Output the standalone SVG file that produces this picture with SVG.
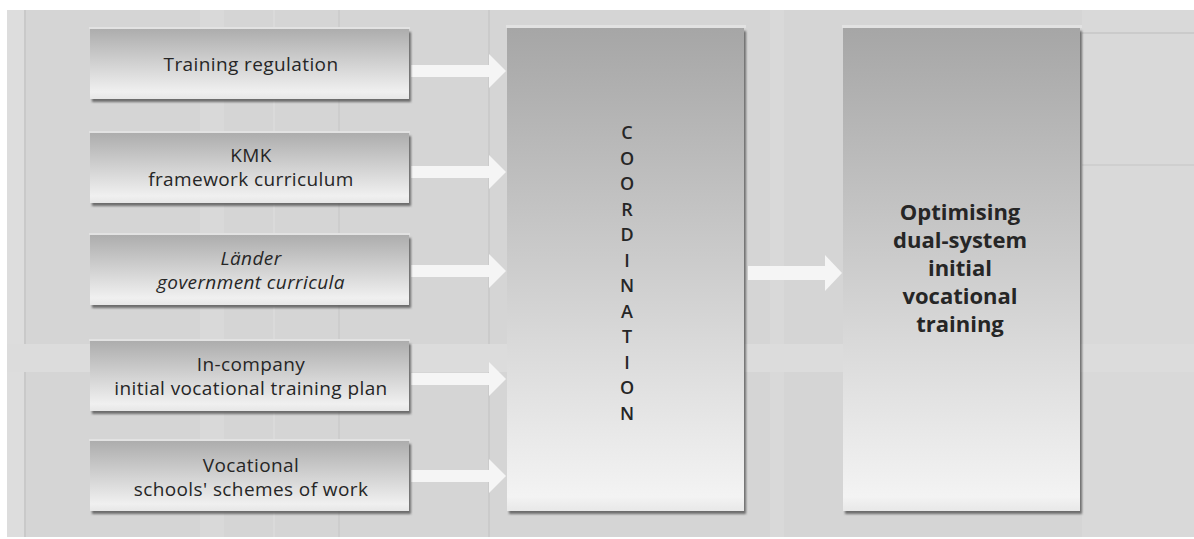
<svg xmlns="http://www.w3.org/2000/svg" width="1194" height="539" viewBox="0 0 1194 539">
  <defs>
    <linearGradient id="gSmall" x1="0" y1="0" x2="0" y2="1">
      <stop offset="0" stop-color="#adadad"/>
      <stop offset="0.5" stop-color="#d2d2d2"/>
      <stop offset="0.9" stop-color="#f0f0f0"/>
      <stop offset="1" stop-color="#e6e6e6"/>
    </linearGradient>
    <linearGradient id="gBig" x1="0" y1="0" x2="0" y2="1">
      <stop offset="0" stop-color="#a6a6a6"/>
      <stop offset="0.5" stop-color="#cdcdcd"/>
      <stop offset="0.97" stop-color="#f3f3f3"/>
      <stop offset="1" stop-color="#e8e8e8"/>
    </linearGradient>
    <filter id="sh" x="-5%" y="-10%" width="115%" height="130%">
      <feDropShadow dx="2" dy="3" stdDeviation="1.2" flood-color="#4a4a4a" flood-opacity="0.75"/>
    </filter>
    <style>
      .box { fill: url(#gSmall); filter: url(#sh); }
      .big { fill: url(#gBig); filter: url(#sh); }
      .hl { fill: #e2e2e2; }
      .lbl { font-family: "Open Sans", "Liberation Sans", sans-serif; font-size: 19px; letter-spacing: 0.4px; fill: #262626; text-anchor: middle; }
      .it { font-style: italic; }
      .coord { font-family: "Open Sans", "Liberation Sans", sans-serif; font-size: 18px; font-weight: 600; fill: #262626; text-anchor: middle; }
      .res { font-family: "Open Sans", "Liberation Sans", sans-serif; font-size: 22px; font-weight: 700; fill: #262626; text-anchor: middle; }
      .arrow { fill: #f5f5f5; }
    </style>
  </defs>

  <!-- background panel -->
  <rect x="0" y="0" width="1194" height="539" fill="#ffffff"/>
  <rect x="7" y="10" width="1187" height="527" fill="#d5d5d5"/>
  <rect x="7" y="10" width="17" height="527" fill="#dddddd"/>
  <rect x="24" y="10" width="2" height="527" fill="#c9c9c9"/>
  <rect x="200" y="10" width="24" height="527" fill="#d9d9d9"/>
  <rect x="273" y="10" width="2" height="527" fill="#dadada"/>
  <rect x="338" y="10" width="2" height="527" fill="#cdcdcd"/>
  <rect x="488" y="10" width="2" height="527" fill="#cbcbcb"/>
  <rect x="770" y="10" width="14" height="527" fill="#d9d9d9"/>
  <rect x="1082" y="10" width="112" height="527" fill="#d9d9d9"/>
  <rect x="7" y="344" width="1187" height="28" fill="#dcdcdc"/>
  <rect x="1082" y="32" width="112" height="2" fill="#cbcbcb"/>
  <rect x="1082" y="164" width="112" height="2" fill="#cfcfcf"/>

  <!-- connectors -->
  <g id="connectors">
    <path class="arrow" d="M411,65 H489 V54 L506,71 L489,88 V77 H411 Z"/>
    <path class="arrow" d="M411,166 H489 V155 L506,172 L489,189 V178 H411 Z"/>
    <path class="arrow" d="M411,265 H489 V254 L506,271 L489,288 V277 H411 Z"/>
    <path class="arrow" d="M411,373 H489 V362 L506,379 L489,396 V385 H411 Z"/>
    <path class="arrow" d="M411,470 H489 V459 L506,476 L489,493 V482 H411 Z"/>
    <path class="arrow" d="M748,266 H825 V255 L842,273 L825,291 V280 H748 Z"/>
  </g>

  <!-- input nodes -->
  <g id="node-training-regulation">
    <rect class="hl" x="89" y="27" width="321" height="2"/>
    <rect class="box" x="90" y="29" width="319" height="70"/>
    <text class="lbl" x="251" y="71">Training regulation</text>
  </g>
  <g id="node-kmk">
    <rect class="hl" x="89" y="131" width="321" height="2"/>
    <rect class="box" x="90" y="133" width="319" height="70"/>
    <text class="lbl" x="251" y="162">KMK</text>
    <text class="lbl" x="251" y="186">framework curriculum</text>
  </g>
  <g id="node-laender">
    <rect class="hl" x="89" y="233" width="321" height="2"/>
    <rect class="box" x="90" y="235" width="319" height="70"/>
    <text class="lbl it" x="251" y="265">Länder</text>
    <text class="lbl it" x="251" y="289">government curricula</text>
  </g>
  <g id="node-in-company">
    <rect class="hl" x="89" y="339" width="321" height="2"/>
    <rect class="box" x="90" y="341" width="319" height="70"/>
    <text class="lbl" x="251" y="371">In-company</text>
    <text class="lbl" x="251" y="395">initial vocational training plan</text>
  </g>
  <g id="node-vocational-schools">
    <rect class="hl" x="89" y="439" width="321" height="2"/>
    <rect class="box" x="90" y="441" width="319" height="70"/>
    <text class="lbl" x="251" y="472">Vocational</text>
    <text class="lbl" x="251" y="496">schools' schemes of work</text>
  </g>

  <!-- coordination node -->
  <g id="node-coordination">
    <rect class="hl" x="506" y="25" width="240" height="3"/>
    <rect class="big" x="507" y="28" width="237" height="483"/>
    <text class="coord" x="627" y="139">C</text>
    <text class="coord" x="627" y="164.5">O</text>
    <text class="coord" x="627" y="190">O</text>
    <text class="coord" x="627" y="215.5">R</text>
    <text class="coord" x="627" y="241">D</text>
    <text class="coord" x="627" y="266.5">I</text>
    <text class="coord" x="627" y="292">N</text>
    <text class="coord" x="627" y="317.5">A</text>
    <text class="coord" x="627" y="343">T</text>
    <text class="coord" x="627" y="368.5">I</text>
    <text class="coord" x="627" y="394">O</text>
    <text class="coord" x="627" y="419.5">N</text>
  </g>

  <!-- result node -->
  <g id="node-optimising">
    <rect class="hl" x="842" y="25" width="240" height="3"/>
    <rect class="big" x="843" y="28" width="237" height="483"/>
    <text class="res" x="960" y="220">Optimising</text>
    <text class="res" x="960" y="248">dual-system</text>
    <text class="res" x="960" y="276">initial</text>
    <text class="res" x="960" y="304">vocational</text>
    <text class="res" x="960" y="332">training</text>
  </g>
</svg>
